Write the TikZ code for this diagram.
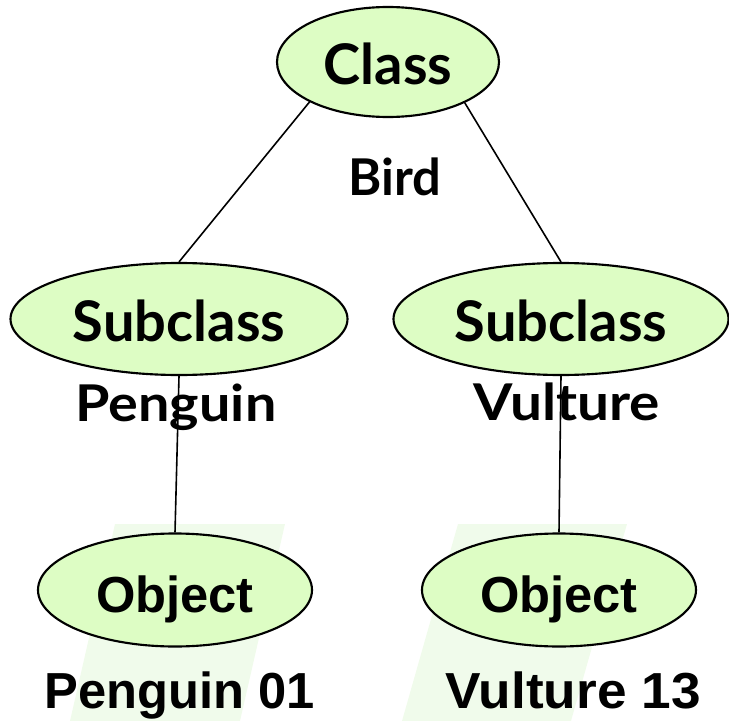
\documentclass[tikz,border=0pt]{standalone}
\usepackage{fontspec}
\newfontfamily\topfont{Lato}
\newfontfamily\botfont{Liberation Sans}
\usetikzlibrary{shapes.geometric}
\definecolor{nodefill}{RGB}{221,253,196}
\definecolor{wmark}{RGB}{240,251,235}
\tikzset{
  x=0.75pt, y=-0.75pt,
  oval/.style={ellipse, draw=black, line width=1.6pt, fill=nodefill, inner sep=0pt, text height=34pt, text depth=0pt},
  bigtxt/.style={font=\topfont\bfseries\fontsize{42}{46}\selectfont},
  midtxt/.style={font=\topfont\bfseries\fontsize{38}{42}\selectfont},
  bottxt/.style={font=\botfont\bfseries\fontsize{38}{42}\selectfont},
  lbl/.style={anchor=base, inner sep=0pt},
  conn/.style={line width=1.2pt}
}
\begin{document}
\begin{tikzpicture}
\useasboundingbox (0,0) rectangle (729,721);
% faint background marks
\fill[wmark] (115,524) -- (285,524) -- (240,721) -- (70,721) -- cycle;
\fill[wmark] (458,524) -- (627,524) -- (571,721) -- (402,721) -- cycle;
% labels
\node[lbl, midtxt] (bird) at (395,195) {Bird};
\node[lbl, midtxt] (penguin) at (176,421) {\scalebox{1.1}[1]{Penguin}};
\node[lbl, midtxt] (vulture) at (567,420) {\scalebox{1.12}[1]{Vulture}};
\node[lbl, bottxt] (p01) at (180,708) {Penguin 01};
\node[lbl, bottxt] (v13) at (573,708) {\scalebox{1.05}[1]{Vulture 13}};
% ellipses
\node[oval, bigtxt, minimum width=166.5pt, minimum height=82.5pt] (class) at (388,62) {Class};
\node[oval, bigtxt, minimum width=252.75pt, minimum height=84pt] (subL) at (179,319) {Subclass};
\node[oval, bigtxt, minimum width=251.25pt, minimum height=84pt] (subR) at (561,319) {Subclass};
\node[oval, bottxt, minimum width=205.5pt, minimum height=84.75pt] (objL) at (175,590) {Object};
\node[oval, bottxt, minimum width=205.5pt, minimum height=84.75pt] (objR) at (559,590) {Object};
% connectors
\draw[conn] (class.-153) -- (subL.north);
\draw[conn] (class.-28) -- (subR.north);
\draw[conn] (subL.south) -- (objL.north);
\draw[conn] (subR.south) -- (objR.north);
\end{tikzpicture}
\end{document}
